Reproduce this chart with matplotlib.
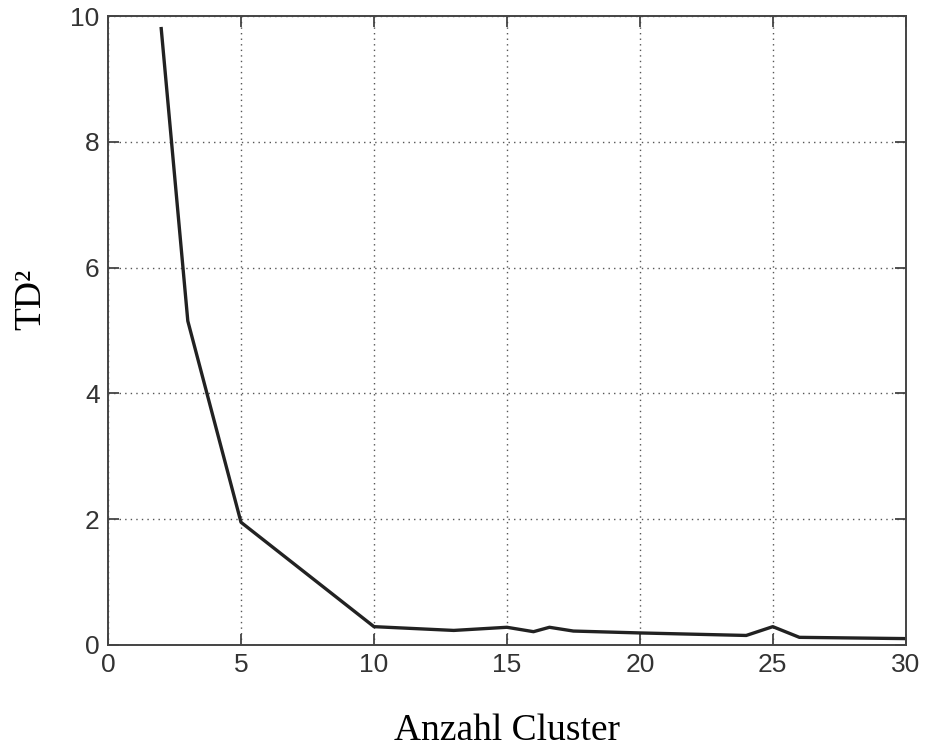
import matplotlib
matplotlib.use("Agg")
from matplotlib import pyplot as plt

# Anzahl Cluster vs. TD^2
clusters = [2, 3, 5, 10, 13, 15, 16, 16.6, 17.5, 20, 24, 25, 26, 28, 30]
td2 = [9.8, 5.15, 1.95, 0.29, 0.23, 0.28, 0.21, 0.28, 0.22, 0.19, 0.15, 0.29, 0.12, 0.11, 0.10]

x_ticks = [0, 5, 10, 15, 20, 25, 30]
y_ticks = [0, 2, 4, 6, 8, 10]

fig = plt.figure(figsize=(9.33, 7.49), dpi=100)
ax = fig.add_axes([0.1158, 0.139, 0.855, 0.8396])

ax.plot(clusters, td2, color="#222222", linewidth=2.4)

ax.set_xlim(0, 30)
ax.set_ylim(0, 10)
ax.set_xticks(x_ticks)
ax.set_yticks(y_ticks)
ax.grid(True, linestyle=(0, (1, 3)), color="#555555", linewidth=1.0)

ax.tick_params(direction="in", length=8, width=1.3, top=True, right=True,
               labelsize=19, labelcolor="#333333", color="#444444", pad=6)
for lab in ax.get_xticklabels() + ax.get_yticklabels():
    lab.set_fontfamily("Liberation Sans")
for sp in ax.spines.values():
    sp.set_color("#444444")
    sp.set_linewidth(1.4)

ax.set_xlabel("Anzahl Cluster", fontfamily="Liberation Serif", fontsize=27)
ax.set_ylabel("TD²", fontfamily="Liberation Serif", fontsize=27)
ax.xaxis.set_label_coords(0.5, -0.152)
ax.yaxis.set_label_coords(-0.097, 0.55)
ax.xaxis.label.set_verticalalignment("baseline")
ax.yaxis.label.set_verticalalignment("center")

fig.savefig("out.png", dpi=100)
